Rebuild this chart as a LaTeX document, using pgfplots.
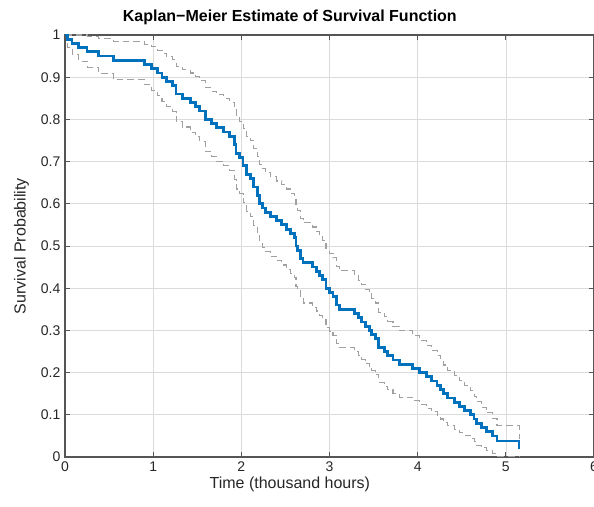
\documentclass[border=0pt]{standalone}
\usepackage{fontspec}
\setmainfont{Liberation Sans}
\usepackage{pgfplots}
\usepackage{pgfplotstable}
\pgfplotsset{compat=1.18}
\definecolor{mblue}{HTML}{0072BD}
\definecolor{axgray}{HTML}{555555}
\definecolor{cigray}{HTML}{A0A0A0}

\pgfplotstableread{
x    S     U     L
0    1     1     1
0.03 0.99  1.0   0.971
0.08 0.98  1.0   0.953
0.15 0.97  1.0   0.938
0.25 0.96  0.997 0.923
0.38 0.95  0.991 0.909
0.55 0.94  0.985 0.895
0.90 0.93  0.978 0.882
0.98 0.92  0.972 0.868
1.05 0.91  0.964 0.856
1.10 0.90  0.957 0.843
1.15 0.89  0.949 0.831
1.22 0.88  0.942 0.818
1.26 0.86  0.926 0.794
1.33 0.85  0.918 0.782
1.42 0.84  0.910 0.770
1.48 0.83  0.901 0.759
1.53 0.82  0.893 0.747
1.59 0.80  0.876 0.724
1.66 0.79  0.867 0.713
1.72 0.78  0.859 0.701
1.80 0.77  0.850 0.690
1.87 0.76  0.841 0.679
1.92 0.74  0.823 0.657
1.94 0.72  0.805 0.635
1.98 0.71  0.796 0.624
2.02 0.69  0.778 0.602
2.06 0.67  0.759 0.581
2.10 0.66  0.750 0.570
2.14 0.64  0.731 0.549
2.18 0.62  0.712 0.528
2.21 0.60  0.693 0.507
2.24 0.59  0.683 0.497
2.27 0.58  0.674 0.486
2.33 0.57  0.664 0.476
2.40 0.56  0.654 0.466
2.46 0.55  0.645 0.455
2.51 0.54  0.635 0.445
2.56 0.53  0.625 0.435
2.60 0.52  0.615 0.425
2.62 0.50  0.595 0.405
2.64 0.49  0.585 0.395
2.67 0.47  0.565 0.375
2.70 0.46  0.555 0.365
2.81 0.45  0.545 0.355
2.85 0.44  0.534 0.346
2.89 0.43  0.524 0.336
2.92 0.42  0.514 0.326
2.96 0.40  0.493 0.307
3.00 0.39  0.483 0.297
3.04 0.38  0.472 0.288
3.08 0.36  0.451 0.269
3.11 0.35  0.441 0.259
3.28 0.34  0.430 0.250
3.33 0.33  0.419 0.241
3.36 0.32  0.409 0.231
3.41 0.31  0.398 0.222
3.45 0.30  0.387 0.213
3.48 0.29  0.376 0.204
3.52 0.28  0.365 0.195
3.56 0.26  0.343 0.177
3.62 0.25  0.332 0.168
3.66 0.24  0.321 0.159
3.72 0.23  0.310 0.150
3.79 0.22  0.299 0.141
3.94 0.21  0.287 0.133
4.02 0.20  0.276 0.124
4.10 0.19  0.265 0.115
4.16 0.18  0.253 0.107
4.22 0.17  0.241 0.099
4.26 0.16  0.230 0.090
4.29 0.15  0.218 0.082
4.34 0.14  0.206 0.074
4.42 0.13  0.194 0.066
4.47 0.12  0.182 0.058
4.53 0.11  0.169 0.051
4.60 0.10  0.157 0.043
4.64 0.09  0.144 0.036
4.67 0.08  0.132 0.028
4.72 0.07  0.118 0.022
4.78 0.06  0.105 0.015
4.85 0.05  0.091 0.009
4.90 0.038 0.074 0.002
5.15 0.018 0.043 0.0
}\kmdata

\begin{document}
\begin{tikzpicture}
\begin{axis}[
  width=396.75pt, height=316.5pt, scale only axis,
  xmin=0, xmax=6, ymin=0, ymax=1,
  xtick={0,1,2,3,4,5,6},
  ytick={0,0.1,0.2,0.3,0.4,0.5,0.6,0.7,0.8,0.9,1},
  grid=major,
  grid style={color=black!14, line width=0.5pt},
  axis line style={color=axgray, line width=0.8pt},
  tick style={color=axgray, line width=0.6pt},
  tick align=inside, major tick length=4pt,
  tick label style={font=\fontsize{10.5}{12}\selectfont, text=black!85},
  /pgf/number format/assume math mode=true,
  label style={font=\fontsize{12}{14}\selectfont, text=black!85},
  xlabel={Time (thousand hours)},
  ylabel={Survival Probability},
  xlabel style={at={(ticklabel cs:0.425)}, anchor=near ticklabel, yshift=3pt},
  ylabel style={yshift=2pt},
  title={\bfseries Kaplan−Meier Estimate of Survival Function},
  title style={at={(0.425,1)}, anchor=south, font=\fontsize{12}{14}\selectfont, yshift=-2pt},
]
\addplot[const plot, cigray, line width=0.8pt, dash pattern=on 5pt off 3pt] table[x=x, y=U] {\kmdata};
\addplot[const plot, cigray, line width=0.8pt, dash pattern=on 5pt off 3pt] table[x=x, y=L] {\kmdata};
\addplot[const plot, mblue, line width=2.1pt] table[x=x, y=S] {\kmdata};
\end{axis}
\pgfresetboundingbox
\path[use as bounding box] ([shift={(-48.75pt,-36.75pt)}]current axis.south west) rectangle ([shift={(0pt,26.25pt)}]current axis.north east);
\end{tikzpicture}
\end{document}
